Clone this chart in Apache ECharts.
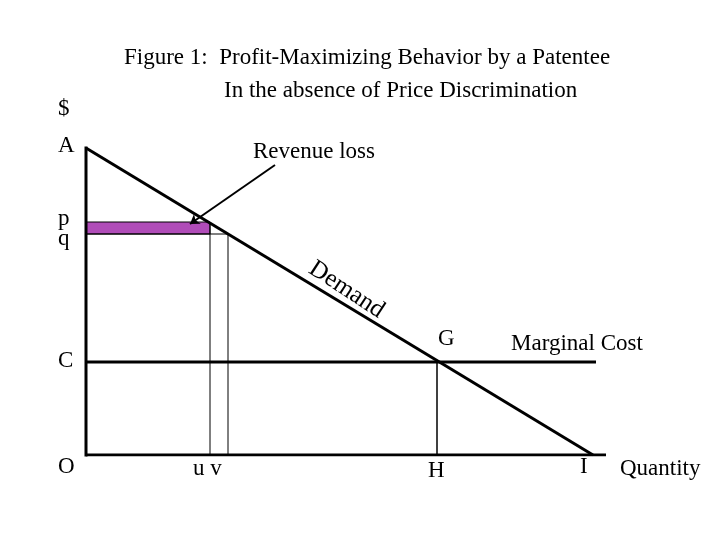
<!DOCTYPE html>
<html><head><meta charset="utf-8">
<script src="https://cdn.jsdelivr.net/npm/echarts@6/dist/echarts.min.js"></script>
<style>html,body{margin:0;background:#fff}#c{width:720px;height:540px}</style>
</head><body><div id="c"></div>
<script>
// data units: x = quantity, y = price (origin O at 0,0)
var demandLine = [[0, 307], [507, 0]];
var mcLine = [[0, 93], [510, 93]];
var pLevel = 233, qLevel = 221;
var uX = 124, vX = 142, hX = 351;
var lossRect = [[0, qLevel], [uX, pLevel]];
var arrowLine = [[189, 290], [104, 231]];

var chart = echarts.init(document.getElementById('c'));
var F = 'Liberation Serif';
function txt(x, y, s, size, extra) {
  return Object.assign({ type: 'text', left: x, top: y,
    style: { text: s, font: (size || 20) + 'px "' + F + '"', fill: '#000' } }, extra || {});
}
function seg(data, w) {
  return { type: 'line', data: data, symbol: 'none', silent: true,
    lineStyle: { color: '#000', width: w } };
}
chart.setOption({
  animation: false,
  grid: { left: 86, top: 148, width: 520, height: 307 },
  xAxis: { type: 'value', min: 0, max: 520, show: false },
  yAxis: { type: 'value', min: 0, max: 307, show: false },
  series: [
    {
      type: 'line', data: [[0, qLevel], [uX, qLevel]], symbol: 'none', silent: true,
      lineStyle: { width: 0 },
      markArea: { silent: true,
        itemStyle: { color: '#b04cb8', borderColor: '#000', borderWidth: 1 },
        data: [[{ coord: lossRect[0] }, { coord: lossRect[1] }]] }
    },
    seg([[0, -2], [0, 315]], 3),
    seg([[0, 0], [520, 0]], 3),
    seg(demandLine, 3),
    seg(mcLine, 3),
    seg([[0, qLevel], [vX, qLevel]], 1),
    seg([[uX, 0], [uX, pLevel]], 1),
    seg([[vX, 0], [vX, qLevel]], 1),
    seg([[hX, 0], [hX, 93]], 1.5),
    seg([[-6, pLevel], [0, pLevel]], 1),
    seg([[-6, qLevel], [0, qLevel]], 1),
    {
      type: 'lines', coordinateSystem: 'cartesian2d', silent: true,
      symbol: ['none', 'arrow'], symbolSize: 9,
      lineStyle: { color: '#000', width: 2, opacity: 1 },
      data: [{ coords: arrowLine }]
    }
  ],
  graphic: [
    txt(124, 46, 'Figure 1:  Profit-Maximizing Behavior by a Patentee', 23),
    txt(224, 79, 'In the absence of Price Discrimination', 23),
    txt(58, 97, '$', 23),
    txt(58, 134, 'A', 23),
    txt(253, 140, 'Revenue loss', 23),
    txt(58, 207, 'p', 23),
    txt(58, 227, 'q', 23),
    txt(58, 349, 'C', 23),
    txt(58, 455, 'O', 23),
    txt(193, 457, 'u v', 23),
    txt(428, 459, 'H', 23),
    txt(438, 327, 'G', 23),
    txt(511, 332, 'Marginal Cost', 23),
    txt(580, 455, 'I', 23),
    txt(620, 457, 'Quantity', 23),
    { type: 'text', x: 318, y: 256, rotation: -0.58,
      style: { text: 'Demand', font: '25px "' + F + '"', fill: '#000' } }
  ]
});
</script></body></html>
